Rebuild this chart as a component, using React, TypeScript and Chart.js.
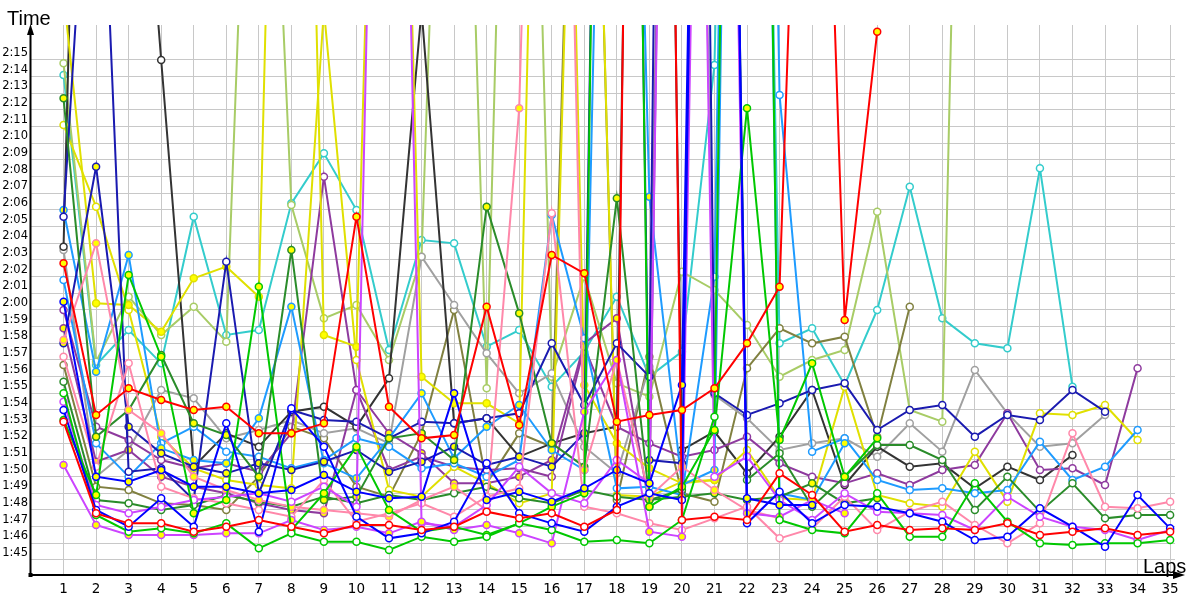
import React, { useEffect, useRef } from 'react';
import { Chart, registerables } from 'chart.js';

Chart.register(...registerables);

// ---- categories / ticks ----
const LAPS = [1, 2, 3, 4, 5, 6, 7, 8, 9, 10, 11, 12, 13, 14, 15, 16, 17, 18, 19, 20, 21, 22, 23, 24, 25, 26, 27, 28, 29, 30, 31, 32, 33, 34, 35];
const TIME_TICKS = [105, 106, 107, 108, 109, 110, 111, 112, 113, 114, 115, 116, 117, 118, 119, 120, 121, 122, 123, 124, 125, 126, 127, 128, 129, 130, 131, 132, 133, 134, 135];

// ---- lap times (seconds), one array per driver ----
const RED_A = [122.8, 113.7, 115.3, 114.6, 114.0, 114.2, 112.6, 112.6, 113.2, 125.6, 114.2, 112.3, 112.5, 120.2, 113.1, 123.3, 122.2, 113.3, 113.7, 114.0, 115.3, 118.0, 121.4, 178, 119.4, 136.7, null, null, null, null, null, null, null, null, null];
const RED_B = [113.3, 107.8, 107.2, 107.2, 106.7, 107.0, 107.4, 107.0, 106.6, 107.1, 107.1, 106.8, 107.0, 107.9, 107.5, 107.8, 107.0, 108.0, 260, 107.4, 107.6, 107.4, 110.2, 108.9, 106.7, 107.1, 106.8, 106.9, 106.8, 107.2, 106.5, 106.7, 106.9, 106.5, 106.7];
const BLUE_A = [120.5, 110.0, 109.7, 110.4, 109.4, 109.4, 109.0, 109.2, 110.1, 109.1, 108.7, 108.8, 115.0, 108.6, 109.1, 108.5, 109.3, 110.4, 109.6, 115.5, 230, 108.7, 108.3, 108.3, null, null, null, null, null, null, null, null, null, null, null];
const BLUE_B = [114.0, 108.0, 107.0, 108.7, 107.0, 113.2, 106.7, 114.1, 111.8, 107.6, 106.3, 106.6, 107.3, 110.8, 107.8, 107.2, 106.7, 108.2, 109.0, 108.6, 240, 107.2, 109.1, 107.2, 108.3, 108.2, 107.8, 107.3, 106.2, 106.4, 108.1, 107.0, 105.8, 108.9, 106.9];
const NAVY_A = [125.6, 157, 110.3, 110.5, 108.6, 122.9, 109.0, 114.0, 113.4, 113.3, 112.3, 113.3, 113.2, 113.5, 113.8, 118.0, 114.3, 118.0, 116.0, 280, 115.0, 113.7, 114.4, 115.2, 115.6, 112.8, 114.0, 114.3, 112.4, 113.7, 113.4, 115.2, 113.9, null, null];
const NAVY_B = [118.0, 128.6, 113.0, 111.4, 110.6, 110.2, 110.8, 110.4, 110.9, 111.6, 110.3, 110.9, 111.8, 110.7, 111.2, 110.6, 112.6, 240, 111.0, 110.8, null, null, null, null, null, null, null, null, null, null, null, null, null, null, null];
const SKY_A = [126.0, 116.3, 123.3, 111.7, 111.0, 110.8, 113.5, 120.2, 110.8, 109.9, 112.3, 115.0, 111.1, 113.0, 114.3, 111.6, 110.4, 200, 126.8, 109.5, 110.4, 240, 109.0, 108.6, 112.0, null, null, null, null, null, null, null, null, null, null];
const SKY_B = [121.8, 112.0, 110.0, 112.0, 113.0, 111.5, 111.2, 110.5, 111.0, 112.3, 111.8, 110.5, 110.8, 110.0, 111.0, 125.7, 118.3, 109.3, 109.4, 108.9, 122.0, 240, 132.9, 111.5, 112.3, 109.8, 109.2, 109.3, 109.0, 109.2, 112.1, 109.8, 110.6, 112.8, null];
const CYAN_A = [134.1, 116.7, 118.8, 116.8, 125.6, 118.5, 118.8, 126.4, 129.4, 126.0, 117.6, 124.2, 124.0, 117.8, 118.8, 115.4, 117.5, 120.8, 116.0, 117.5, 134.7, 220, 118.0, 118.9, 115.5, 120.0, 127.4, 119.5, 118.0, 117.7, 128.5, 115.4, null, null, null];
const GREEN_A = [115.0, 107.7, 106.7, 106.9, 106.6, 107.2, 105.7, 106.6, 106.1, 106.1, 105.6, 106.4, 106.1, 106.4, 107.2, 106.8, 106.1, 106.2, 106.0, 107.4, 113.6, 250, 107.4, 106.8, 106.6, 109.0, 106.4, 106.4, 109.6, 107.3, 106.0, 105.9, 106.0, 106.0, 106.2];
const GREEN_B = [113.4, 108.9, 122.1, 117.2, 107.8, 108.6, 121.4, 106.8, 109.0, 111.8, 108.0, 106.7, 107.0, 106.5, 107.2, 108.2, 109.0, 250, 108.2, 109.4, 112.8, 132.1, 112.2, 116.8, 110.0, 112.3, null, null, null, null, null, null, null, null, null];
const FOREST_A = [132.7, 112.4, 114.0, 117.3, 113.2, 112.5, 110.0, 123.6, 108.6, 108.8, 112.3, 112.6, 111.0, 126.2, 119.8, 112.0, 110.6, 126.7, 108.6, 108.8, 109.0, 108.6, 108.8, 109.6, 108.4, 108.7, null, null, null, null, null, null, null, null, null];
const FOREST_B = [115.7, 108.6, 108.4, 108.0, 108.3, 108.9, 108.5, 108.2, 108.8, 108.4, 108.9, 108.6, 109.0, 109.4, 108.7, 108.4, 109.2, 108.8, 108.6, 109.2, 230, 109.8, 111.4, 108.2, 110.0, 111.9, 111.9, 111.0, 108.0, 110.0, 107.9, 109.6, 107.5, 107.7, 107.7];
const LIME_A = [134.8, 116.9, 120.8, 118.5, 120.2, 118.1, 170, 126.3, 119.5, 120.3, 117.0, 123.2, 180, 115.3, 190, 116.0, 122.0, 115.6, 114.8, 122.3, 121.2, 119.1, 116.0, 117.0, 117.6, 125.9, 114.0, 113.3, 200, null, null, null, null, null, null];
const YELLOW_A = [139, 120.4, 120.3, 118.7, 121.9, 122.6, 120.8, 200, 118.5, 117.8, 190, 116.0, 114.4, 114.4, 113.2, 200, 115.5, 112.0, 110.5, 109.6, 109.8, null, null, null, null, null, null, null, null, null, null, null, null, null, null];
const YELLOW_B = [131.1, 126.2, 120.0, 112.4, 110.5, 109.8, 109.5, 109.3, 138, 117.0, 109.2, 108.8, 110.6, 109.6, 108.4, 109.0, 180, 108.9, 108.8, 109.7, 109.8, 111.6, 108.7, 108.6, 115.4, 108.9, 108.4, 108.2, 111.5, 108.5, 113.8, 113.7, 114.3, 112.2, null];
const PINK_A = [117.2, 110.6, 116.8, 109.4, 108.7, 108.4, 108.0, 107.6, 109.8, 107.3, 107.8, 108.4, 107.6, 108.8, 109.3, 125.8, 108.2, 107.8, 107.2, 106.8, 107.5, 108.2, 106.3, 106.9, 108.8, 106.8, 107.9, 108.5, 107.1, 106.0, 107.2, 112.6, 108.2, 108.1, 108.5];
const PINK_B = [118.2, 124.0, 114.0, 112.6, 110.0, 109.2, 108.6, 108.2, 108.0, 107.8, 107.6, 108.6, 109.4, 108.0, 132.1, 200, 110.4, 117.0, 108.8, 110.6, 109.2, 108.0, 107.5, null, null, null, null, null, null, null, null, null, null, null, null];
const VIOLET_A = [110.7, 107.1, 106.5, 106.5, 106.5, 106.6, 106.6, 107.4, 106.8, 107.0, 106.6, 107.3, 106.8, 107.1, 106.6, 106.0, 113.9, 117.0, 106.7, 106.4, 220, 107.8, 107.6, 108.6, 107.8, null, null, null, null, null, null, null, null, null, null];
const VIOLET_B = [114.5, 108.3, 107.8, 108.2, 108.6, 108.8, 109.0, 108.5, 109.4, 108.2, 200, 107.2, 107.0, 108.3, 110.6, 109.0, 108.4, 111.0, 109.6, 230, 110.0, 111.2, 108.6, 107.4, 109.0, 107.9, 107.8, 107.7, 106.8, 108.8, 107.6, 107.0, 106.8, 106.2, 106.8];
const PLUM_A = [120.0, 113.0, 112.2, 111.0, 110.5, 110.8, 110.3, 112.6, 128.0, 115.2, 110.4, 111.2, 110.6, 110.4, 110.5, 110.0, 117.8, 113.0, 112.0, 111.2, 111.6, 112.4, 110.8, 110.0, 109.6, 110.2, 109.5, 110.4, 110.7, 113.8, 110.4, 110.5, 109.5, 116.5, null];
const PLUM_B = [118.9, 110.9, 111.6, 110.0, 109.4, 109.0, 108.4, 108.0, 107.8, 115.2, 112.6, 111.4, 109.6, 109.6, 110.0, 111.0, 118.0, 119.5, 108.2, 240, null, null, null, null, null, null, null, null, null, null, null, null, null, null, null];
const BLACK_A = [123.8, 200, 160, 135.0, 110.6, 112.6, 111.8, 113.9, 114.2, 113.0, 115.9, 138.0, 113.2, 113.5, 111.2, 112.0, 112.6, 113.0, 240, 111.6, 112.7, 110.2, 112.4, 115.2, 109.5, 111.8, 110.6, 110.8, 109.3, 110.6, 109.8, 111.3, null, null, null];
const GREY_A = [123.6, 110.0, 111.6, 115.2, 114.7, 112.3, 112.8, 113.4, 112.6, 112.9, 112.0, 123.2, 120.3, 117.4, 115.0, 116.2, 111.8, 110.2, 116.6, 220, 114.9, 113.5, 111.6, 112.0, 112.3, 111.2, 113.2, 111.5, 116.4, 113.8, 111.8, 112.0, 113.7, null, null];
const OLIVE_A = [116.7, 109.4, 109.2, 108.4, 108.3, 108.0, 110.0, 113.0, 112.3, 109.4, 108.8, 112.6, 120.0, 109.6, 112.6, 111.8, 180, 108.6, 117.2, 109.0, 108.5, 116.5, 118.9, 118.0, 118.4, 112.4, 120.2, null, null, null, null, null, null, null, null];

// ---- styles (kept apart from the data) ----
const SERIES: [string, (number | null)[], string, string][] = [
  ['RED_A', RED_A, '#ff0000', '#ffff00'],
  ['RED_B', RED_B, '#ff0000', '#ffffff'],
  ['BLUE_A', BLUE_A, '#0000ff', '#ffff00'],
  ['BLUE_B', BLUE_B, '#0000ff', '#ffffff'],
  ['GREEN_A', GREEN_A, '#00c800', '#ffffff'],
  ['GREEN_B', GREEN_B, '#00c800', '#ffff00'],
  ['VIOLET_A', VIOLET_A, '#cc44ff', '#ffff00'],
  ['VIOLET_B', VIOLET_B, '#cc44ff', '#ffffff'],
  ['PINK_A', PINK_A, '#ff88aa', '#ffffff'],
  ['PINK_B', PINK_B, '#ff88aa', '#ffff00'],
  ['FOREST_A', FOREST_A, '#2a8c2a', '#ffff00'],
  ['FOREST_B', FOREST_B, '#2a8c2a', '#ffffff'],
  ['NAVY_A', NAVY_A, '#1a1ab0', '#ffffff'],
  ['NAVY_B', NAVY_B, '#1a1ab0', '#ffff00'],
  ['SKY_A', SKY_A, '#1e9bff', '#ffff00'],
  ['SKY_B', SKY_B, '#1e9bff', '#ffffff'],
  ['YELLOW_A', YELLOW_A, '#e0e000', '#ffff00'],
  ['YELLOW_B', YELLOW_B, '#e0e000', '#ffffff'],
  ['PLUM_A', PLUM_A, '#8e3a9e', '#ffffff'],
  ['PLUM_B', PLUM_B, '#8e3a9e', '#ffff00'],
  ['BLACK_A', BLACK_A, '#333333', '#ffffff'],
  ['GREY_A', GREY_A, '#a0a0a0', '#ffffff'],
  ['OLIVE_A', OLIVE_A, '#808040', '#ffffff'],
  ['LIME_A', LIME_A, '#a8cc66', '#ffffff'],
  ['CYAN_A', CYAN_A, '#33cccc', '#ffffff'],
];

const fmtTime = (v: number) => `${Math.floor(v / 60)}:${String(Math.round(v % 60)).padStart(2, '0')}`;

const axesPlugin = {
  id: 'axesArrows',
  afterDraw(chart: any) {
    const { ctx, chartArea: a } = chart;
    const x0 = a.left - 0.5;
    const y0 = a.bottom;
    ctx.save();
    ctx.strokeStyle = '#000';
    ctx.fillStyle = '#000';
    ctx.lineWidth = 2;
    ctx.beginPath();
    ctx.moveTo(x0, y0);
    ctx.lineTo(x0, a.top + 6);
    ctx.moveTo(x0, y0);
    ctx.lineTo(a.right + 2, y0);
    ctx.stroke();
    // arrow heads
    ctx.beginPath();
    ctx.moveTo(x0, a.top - 1);
    ctx.lineTo(x0 - 3.5, a.top + 10);
    ctx.lineTo(x0 + 3.5, a.top + 10);
    ctx.closePath();
    ctx.fill();
    ctx.beginPath();
    ctx.moveTo(a.right + 10, y0);
    ctx.lineTo(a.right - 2, y0 - 4);
    ctx.lineTo(a.right - 2, y0 + 4);
    ctx.closePath();
    ctx.fill();
    ctx.fillRect(x0 - 2, y0 - 2, 4, 4);
    // axis titles
    ctx.font = '20px "Liberation Sans", Arial, sans-serif';
    ctx.textBaseline = 'alphabetic';
    ctx.textAlign = 'left';
    ctx.fillText('Time', 7, 25);
    ctx.fillText('Laps', 1143, 573);
    ctx.restore();
  },
};

export default function App() {
  const ref = useRef<HTMLCanvasElement | null>(null);
  useEffect(() => {
    if (!ref.current) return;
    const datasets = SERIES.map(([name, values, color, fill]) => ({
      label: name,
      data: LAPS.map((lap, i) => ({ x: lap, y: values[i] })),
      borderColor: color,
      backgroundColor: fill,
      pointBackgroundColor: fill,
      pointBorderColor: color,
      pointRadius: 3.5,
      pointBorderWidth: 1.5,
      borderWidth: 2,
      tension: 0,
      spanGaps: false,
    }));
    const chart = new Chart(ref.current, {
      type: 'line',
      data: { datasets },
      plugins: [axesPlugin],
      options: {
        animation: false,
        responsive: false,
        layout: { padding: { top: 25, right: 25, left: 0, bottom: 0 } },
        plugins: { legend: { display: false }, tooltip: { enabled: false } },
        scales: {
          x: {
            type: 'linear',
            min: 0,
            max: 35.15,
            afterBuildTicks: (s: any) => { s.ticks = LAPS.map((v) => ({ value: v })); },
            afterFit: (s: any) => { s.height = 25; },
            grid: { color: '#c8c8c8', lineWidth: 1, drawTicks: false },
            border: { display: false },
            ticks: {
              autoSkip: false,
              maxRotation: 0,
              padding: 6,
              color: '#000',
              font: { family: '"DejaVu Sans", Verdana, sans-serif', size: 13.5 },
              callback: (v: any) => String(v),
            },
          },
          y: {
            type: 'linear',
            min: 104.1,
            max: 137.1,
            afterBuildTicks: (s: any) => { s.ticks = TIME_TICKS.map((v) => ({ value: v })); },
            afterFit: (s: any) => { s.width = 31; },
            grid: { color: '#c8c8c8', lineWidth: 1, drawTicks: false },
            border: { display: false },
            ticks: {
              padding: 3,
              labelOffset: -7,
              color: '#000',
              font: { family: '"DejaVu Sans", Verdana, sans-serif', size: 11.5 },
              callback: (v: any) => fmtTime(Number(v)),
            },
          },
        },
      },
    });
    return () => chart.destroy();
  }, []);
  return (
    <div style={{ position: 'absolute', left: 0, top: 0, width: 1200, height: 600, background: '#fff' }}>
      <canvas ref={ref} width={1200} height={600} style={{ width: 1200, height: 600, display: 'block' }} />
    </div>
  );
}
